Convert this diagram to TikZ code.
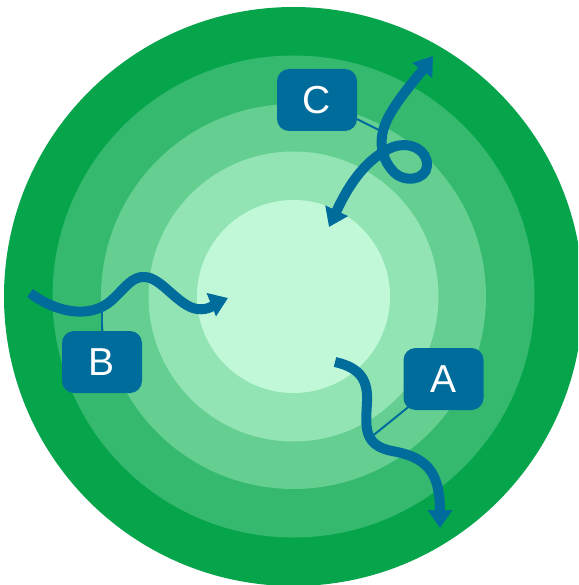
\documentclass[tikz,border=0pt]{standalone}
\usepackage{fontspec}
\setmainfont{Liberation Sans}
\usetikzlibrary{arrows.meta}
\definecolor{ringA}{RGB}{6,165,75}
\definecolor{ringB}{RGB}{52,185,111}
\definecolor{ringC}{RGB}{100,207,145}
\definecolor{ringD}{RGB}{147,228,180}
\definecolor{ringE}{RGB}{193,249,216}
\definecolor{deepblue}{RGB}{0,108,155}
\tikzset{
  tag/.style={fill=deepblue, rounded corners=12pt, minimum width=80pt, minimum height=62pt,
              inner sep=0pt, text=white, font=\fontsize{39}{39}\selectfont},
  leader/.style={draw=deepblue, line width=2pt},
  path arrow/.style={draw=deepblue, line width=10pt,
              -{Triangle[length=18pt,width=24pt]}},
  both arrow/.style={draw=deepblue, line width=10pt,
              {Triangle[length=18pt,width=24pt]}-{Triangle[length=18pt,width=24pt]}},
}
\begin{document}
\begin{tikzpicture}[x=1pt,y=-1pt]
\clip (0,0) rectangle (578,585);
\fill[white] (0,0) rectangle (578,585);
% concentric zones
\coordinate (ctr) at (293.5,296.5);
\fill[ringA] (ctr) circle[radius=289.5pt];
\fill[ringB] (ctr) circle[radius=241pt];
\fill[ringC] (ctr) circle[radius=192.5pt];
\fill[ringD] (ctr) circle[radius=145pt];
\fill[ringE] (ctr) circle[radius=96.5pt];

% labels
\node[tag] (C) at (317,100) {C};
\node[tag] (B) at (102,362) {B};
\node[tag] (A) at (443.5,379) {A};

% points where the leaders meet the paths
\coordinate (cjoin) at (381,131);
\coordinate (bjoin) at (102,307);
\coordinate (ajoin) at (370,438);

% leaders
\draw[leader] ([yshift=12pt]C.south east) -- (cjoin);
\draw[leader] (B.north) -- (bjoin);
\draw[leader] ([xshift=6pt,yshift=4pt]A.south west) -- (ajoin);

% paths
\draw[path arrow] (30,293) .. controls (55,312) and (90,320) .. (112,300)
  .. controls (125,288) and (132,276) .. (145,277)
  .. controls (162,278) and (178,306) .. (197,309)
  .. controls (210,311) and (218,302) .. (228,298);

\draw[path arrow] (335,362) .. controls (362,368) and (368,382) .. (367,402)
  .. controls (366,425) and (362,445) .. (392,451)
  .. controls (425,457) and (440,470) .. (440,528);

\draw[both arrow] (329,227) .. controls (345,193) and (362,160) .. (393,147)
  .. controls (410,141) and (428,150) .. (427,166)
  .. controls (426,180) and (403,184) .. (392,170)
  .. controls (380,156) and (378,137) .. (388,118)
  .. controls (397,100) and (415,80) .. (433,56);
\end{tikzpicture}
\end{document}
